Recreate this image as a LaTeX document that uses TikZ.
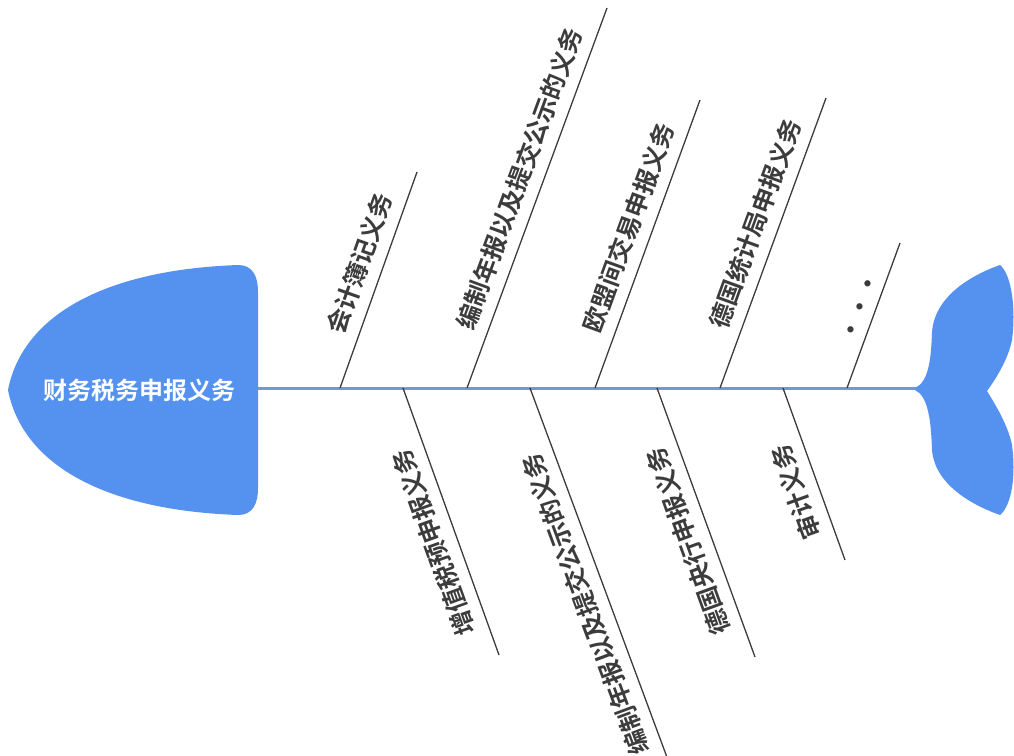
\documentclass[tikz,border=0pt]{standalone}
\usepackage{fontspec}
\newfontfamily\cjk{Noto Sans CJK SC}[BoldFont={Noto Sans CJK SC Bold}]
\usetikzlibrary{calc}
\definecolor{fishblue}{HTML}{5592F0}
\definecolor{spineblue}{HTML}{6B9BD2}
\definecolor{bonegray}{HTML}{3C3C3C}
\tikzset{
  spine/.style={line width=3pt,spineblue},
  bone/.style={line width=1.3pt,bonegray},
  lbl/.style={font=\cjk\bfseries\fontsize{24.5}{24.5}\selectfont,text=bonegray,inner sep=2pt},
  title/.style={font=\cjk\bfseries\fontsize{24}{24}\selectfont,text=white,inner sep=2pt}
}
\begin{document}
\begin{tikzpicture}[x=1pt,y=-1pt]
          \useasboundingbox (0,0) rectangle (1014,755);
          % head and tail
          \fill [fishblue] (8,390) .. controls (22,318) and (100,270) .. (238,265)
                .. controls (252,265) and (258,275) .. (258,292) -- (258,488)
                .. controls (258,505) and (252,515) .. (238,515)
                .. controls (100,510) and (22,462) .. (8,390) -- cycle;
          \fill [fishblue] (915,388) .. controls (928,382) and (931,362) .. (932,332)
                .. controls (935,292) and (980,272) .. (1000,265)
                .. controls (1012,275) and (1016,310) .. (1012,340)
                .. controls (1008,360) and (995,380) .. (987,391)
                .. controls (995,404) and (1008,425) .. (1012,445)
                .. controls (1016,475) and (1012,505) .. (1000,515)
                .. controls (980,508) and (935,488) .. (932,450)
                .. controls (931,420) and (928,396) .. (915,390) -- cycle;
          \node [title] (ttl) at (139,390) {财务税务申报义务};
          % spine
          \coordinate (sp0) at (258,388);
          \coordinate (sp1) at (916,388);
          \draw [spine] (sp0)--(sp1);
          % upper bones
          \coordinate (t1a) at (340,388); \coordinate (t1b) at (417,172);
          \coordinate (t2a) at (467,388); \coordinate (t2b) at (607,8);
          \coordinate (t3a) at (595,388); \coordinate (t3b) at (700,100);
          \coordinate (t4a) at (720,388); \coordinate (t4b) at (826,98);
          \coordinate (t5a) at (847,388); \coordinate (t5b) at (900,243);
          \draw [bone] (t1a)--(t1b) node [lbl,pos=.54,sloped,above=9pt] (l1) {会计簿记义务};
          \draw [bone] (t2a)--(t2b) node [lbl,pos=.53,sloped,above=9pt] (l2) {编制年报以及提交公示的义务};
          \draw [bone] (t3a)--(t3b) node [lbl,pos=.53,sloped,above=9pt] (l3) {欧盟间交易申报义务};
          \draw [bone] (t4a)--(t4b) node [lbl,pos=.54,sloped,above=9pt] (l4) {德国统计局申报义务};
          \draw [bone] (t5a)--(t5b) node [lbl,pos=.52,sloped,above=4pt] (l5) {・・・};
          % lower bones
          \coordinate (b1a) at (403,388); \coordinate (b1b) at (499,655);
          \coordinate (b2a) at (530,388); \coordinate (b2b) at (668,760);
          \coordinate (b3a) at (657,388); \coordinate (b3b) at (755,657);
          \coordinate (b4a) at (783,388); \coordinate (b4b) at (845,560);
          \draw [bone] (b1b)--(b1a) node [lbl,pos=.45,sloped,allow upside down,above=9pt] (m1) {增值税预申报义务};
          \draw [bone] (b2b)--(b2a) node [lbl,pos=.44,sloped,allow upside down,above=9pt] (m2) {编制年报以及提交公示的义务};
          \draw [bone] (b3b)--(b3a) node [lbl,pos=.46,sloped,allow upside down,above=9pt] (m3) {德国央行申报义务};
          \draw [bone] (b4b)--(b4a) node [lbl,pos=.44,sloped,allow upside down,above=9pt] (m4) {审计义务};
        \end{tikzpicture}
\end{document}
